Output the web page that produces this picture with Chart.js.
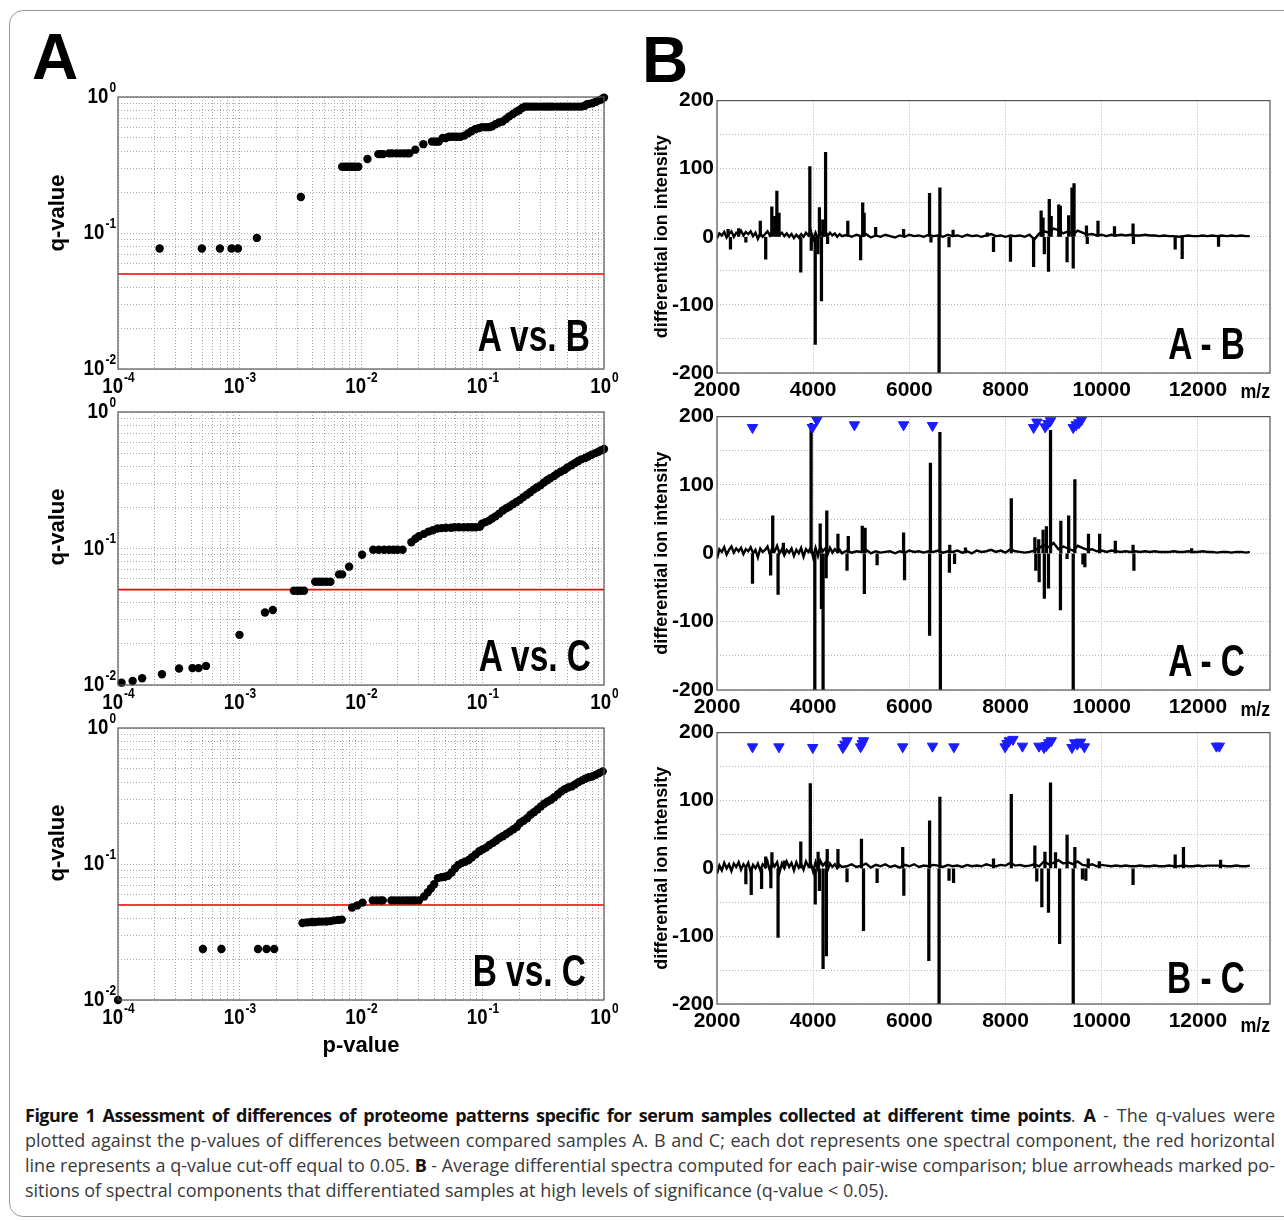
<!DOCTYPE html>
<html>
<head>
<meta charset="utf-8">
<script src="https://cdn.jsdelivr.net/npm/chart.js@4.4.1/dist/chart.umd.min.js"></script>
<style>
  body { margin: 0; background: #fff; width: 1284px; height: 1220px; position: relative; overflow: hidden; }
  #frame { position: absolute; left: 9px; top: 10px; width: 1300px; height: 1205px; border: 1px solid #9a9a9a; border-radius: 14px; }
  canvas { position: absolute; }
  .big { position: absolute; font: bold 64px/64px 'Liberation Sans', Arial, sans-serif; color: #000; }
  .ylab { position: absolute; width: 120px; height: 26px; font: bold 22px/26px 'Liberation Sans', Arial, sans-serif; text-align: center; transform: rotate(-90deg); color: #000; }
  .tag { position: absolute; width: 200px; text-align: right; font: bold 44px/44px 'Liberation Sans', Arial, sans-serif; color: #000; transform: scaleX(0.76); transform-origin: 100% 50%; }
  .mz { position: absolute; left: 1236px; width: 30px; text-align: right; font: bold 21px/22px 'Liberation Sans', Arial, sans-serif; color: #000; transform: scaleX(0.85); transform-origin: 100% 50%; }
  #caption { position: absolute; left: 25px; top: 1103px; width: 1250px; font: 18px/25px 'Open Sans', sans-serif; color: #3a3a3a; letter-spacing: 0; }
  #caption .ln { white-space: nowrap; text-align: justify; text-align-last: justify; }
  #caption .last { text-align-last: left; }
  #caption b { letter-spacing: -0.5px; color: #111; }
</style>
</head>
<body>
<div id="frame"></div>
<div class="big" style="left:32px;top:25px">A</div>
<div class="big" style="left:642px;top:28px">B</div>

<canvas id="qAB" width="600" height="317" style="left:20px;top:82px"></canvas>
<canvas id="qAC" width="600" height="318" style="left:20px;top:397px"></canvas>
<canvas id="qBC" width="600" height="352" style="left:20px;top:713px"></canvas>
<canvas id="sAB" width="650" height="320" style="left:630px;top:85px"></canvas>
<canvas id="sAC" width="650" height="321" style="left:630px;top:401px"></canvas>
<canvas id="sBC" width="650" height="319" style="left:630px;top:717px"></canvas>

<div class="ylab" style="left:-3px;top:200px">q-value</div>
<div class="ylab" style="left:-3px;top:514px">q-value</div>
<div class="ylab" style="left:-3px;top:830px">q-value</div>

<div class="tag" style="left:390px;top:314px">A vs. B</div>
<div class="tag" style="left:391px;top:634px">A vs. C</div>
<div class="tag" style="left:386px;top:949px">B vs. C</div>
<div class="tag" style="left:1045px;top:322px">A - B</div>
<div class="tag" style="left:1045px;top:639px">A - C</div>
<div class="tag" style="left:1045px;top:956px">B - C</div>
<div class="mz" style="top:380px">m/z</div>
<div class="mz" style="top:698px">m/z</div>
<div class="mz" style="top:1014px">m/z</div>

<div id="caption">
  <div class="ln"><b>Figure 1 Assessment of differences of proteome patterns specific for serum samples collected at different time points</b>. <b>A</b> - The q-values were</div>
  <div class="ln">plotted against the p-values of differences between compared samples A. B and C; each dot represents one spectral component, the red horizontal</div>
  <div class="ln">line represents a q-value cut-off equal to 0.05. <b>B</b> - Average differential spectra computed for each pair-wise comparison; blue arrowheads marked po-</div>
  <div class="ln last">sitions of spectral components that differentiated samples at high levels of significance (q-value &lt; 0.05).</div>
</div>

<script>
// ---- panel A: p-value / q-value pairs ----
const pDecades = [1e-4, 1e-3, 1e-2, 1e-1, 1];
const pExps = ['-4', '-3', '-2', '-1', '0'];
const qDecades = [1e-2, 1e-1, 1];
const qExps = ['-2', '-1', '0'];
const minorSteps = [1, 2, 3, 4, 5, 6, 7, 8, 9];
const qCutoff = 0.05;

const pAB = [2.2e-4, 4.9e-4, 6.9e-4, 8.6e-4, 9.7e-4,
  1.39e-3, 3.2e-3,
  7.0e-3, 7.4e-3, 7.8e-3, 8.2e-3, 8.6e-3, 9.0e-3, 9.5e-3,
  1.13e-2, 1.39e-2, 1.45e-2, 1.52e-2,
  1.7e-2, 1.8e-2, 1.95e-2, 2.1e-2, 2.25e-2, 2.4e-2, 2.5e-2,
  2.8e-2, 3.26e-2, 3.84e-2, 4.05e-2, 4.2e-2, 4.37e-2,
  4.7e-2, 5.0e-2, 5.3e-2, 5.6e-2, 5.9e-2, 6.2e-2, 6.6e-2, 7.1e-2,
  7.6e-2, 8.1e-2, 8.7e-2, 9.3e-2, 0.099, 0.106, 0.113, 0.12, 0.128, 0.137,
  0.146, 0.156, 0.166, 0.178, 0.19, 0.2, 0.212, 0.223,
  0.235, 0.25, 0.265, 0.28, 0.3, 0.32, 0.34, 0.36, 0.38, 0.41, 0.44, 0.47, 0.5, 0.53, 0.57, 0.61, 0.65,
  0.69, 0.72, 0.75, 0.8, 0.85, 0.9, 0.95, 1.0];
const qAB = [0.077, 0.077, 0.077, 0.077, 0.077,
  0.092, 0.184,
  0.307, 0.307, 0.307, 0.307, 0.307, 0.307, 0.307,
  0.35, 0.38, 0.38, 0.38,
  0.385, 0.385, 0.385, 0.385, 0.385, 0.385, 0.385,
  0.41, 0.45, 0.47, 0.47, 0.47, 0.47,
  0.5, 0.5, 0.51, 0.51, 0.51, 0.51, 0.51, 0.52,
  0.54, 0.56, 0.58, 0.59, 0.6, 0.6, 0.6, 0.61, 0.63, 0.65,
  0.66, 0.69, 0.72, 0.75, 0.78, 0.8, 0.83, 0.85,
  0.85, 0.85, 0.85, 0.85, 0.85, 0.85, 0.85, 0.85, 0.85, 0.85, 0.85, 0.85, 0.85, 0.85, 0.85, 0.85, 0.85,
  0.86, 0.88, 0.89, 0.9, 0.92, 0.94, 0.96, 0.99];

const pAC = [1.07e-4, 1.32e-4, 1.58e-4, 2.3e-4, 3.18e-4, 4.1e-4, 4.6e-4, 5.3e-4,
  1.0e-3, 1.62e-3, 1.88e-3,
  2.8e-3, 3.0e-3, 3.2e-3, 3.4e-3,
  4.2e-3, 4.5e-3, 4.8e-3, 5.2e-3, 5.6e-3,
  6.6e-3, 7.0e-3, 7.98e-3, 1.02e-2,
  1.26e-2, 1.4e-2, 1.55e-2, 1.7e-2, 1.85e-2, 2.0e-2, 2.2e-2,
  2.6e-2, 2.8e-2, 3.0e-2, 3.3e-2, 3.6e-2, 3.9e-2, 4.25e-2, 4.6e-2, 5.0e-2,
  5.5e-2, 5.9e-2, 6.4e-2, 7.0e-2, 7.6e-2, 8.2e-2, 8.8e-2, 9.5e-2,
  0.099, 0.106, 0.113, 0.12, 0.128, 0.137, 0.147, 0.157, 0.167, 0.178,
  0.19, 0.203, 0.217, 0.232, 0.247, 0.263, 0.28, 0.3, 0.32, 0.34,
  0.36, 0.389, 0.41, 0.44, 0.473, 0.5, 0.54, 0.575, 0.61, 0.65,
  0.7, 0.74, 0.79, 0.85, 0.9, 0.95, 1.0];
const qAC = [0.0104, 0.0107, 0.0112, 0.012, 0.0132, 0.0133, 0.0133, 0.0138,
  0.0233, 0.034, 0.0354,
  0.049, 0.049, 0.049, 0.049,
  0.057, 0.057, 0.057, 0.057, 0.057,
  0.0646, 0.0646, 0.0736, 0.09,
  0.098, 0.098, 0.098, 0.098, 0.098, 0.098, 0.098,
  0.111, 0.118, 0.123, 0.128, 0.133, 0.136, 0.14, 0.141, 0.142,
  0.142, 0.143, 0.143, 0.143, 0.143, 0.143, 0.143, 0.144,
  0.152, 0.156, 0.16, 0.166, 0.172, 0.18, 0.19, 0.197, 0.203, 0.211,
  0.219, 0.227, 0.238, 0.248, 0.258, 0.27, 0.28, 0.29, 0.304, 0.316,
  0.327, 0.34, 0.352, 0.365, 0.377, 0.392, 0.407, 0.422, 0.436, 0.45,
  0.46, 0.472, 0.486, 0.5, 0.512, 0.524, 0.536];

const pBC = [1.0e-4,
  5.0e-4, 7.1e-4, 1.42e-3, 1.67e-3, 1.93e-3,
  3.3e-3, 3.6e-3, 3.9e-3, 4.2e-3, 4.5e-3, 4.8e-3, 5.2e-3, 5.6e-3, 6.0e-3, 6.5e-3, 6.95e-3,
  8.45e-3, 9.3e-3, 1.03e-2,
  1.25e-2, 1.35e-2, 1.45e-2, 1.51e-2,
  1.78e-2, 1.9e-2, 2.05e-2, 2.2e-2, 2.35e-2, 2.5e-2, 2.65e-2, 2.8e-2, 3.0e-2,
  3.31e-2, 3.55e-2, 3.77e-2, 4.0e-2, 4.3e-2, 4.6e-2, 4.9e-2, 5.2e-2, 5.57e-2, 5.95e-2,
  6.34e-2, 6.8e-2, 7.2e-2, 7.7e-2, 8.2e-2, 8.8e-2, 9.4e-2, 0.1, 0.107, 0.114,
  0.122, 0.13, 0.138, 0.147, 0.157, 0.168, 0.18, 0.192, 0.204, 0.218,
  0.233, 0.248, 0.265, 0.283, 0.302, 0.322, 0.344, 0.367, 0.39, 0.418,
  0.446, 0.475, 0.507, 0.542, 0.578, 0.617, 0.659, 0.7, 0.75, 0.8,
  0.855, 0.91, 0.975];
const qBC = [0.01,
  0.0237, 0.0237, 0.0237, 0.0237, 0.0237,
  0.0368, 0.0372, 0.0375, 0.0375, 0.0377, 0.0377, 0.0378, 0.038, 0.0385, 0.0388, 0.039,
  0.0479, 0.0496, 0.052,
  0.054, 0.054, 0.054, 0.054,
  0.054, 0.054, 0.054, 0.054, 0.054, 0.054, 0.054, 0.054, 0.054,
  0.0577, 0.062, 0.0664, 0.071, 0.0787, 0.08, 0.0805, 0.082, 0.0865, 0.093,
  0.0986, 0.102, 0.104, 0.107, 0.112, 0.118, 0.124, 0.128, 0.132, 0.138,
  0.143, 0.149, 0.155, 0.16, 0.166, 0.173, 0.18, 0.188, 0.2, 0.208,
  0.217, 0.23, 0.24, 0.252, 0.265, 0.277, 0.288, 0.297, 0.31, 0.326,
  0.342, 0.355, 0.365, 0.372, 0.385, 0.4, 0.412, 0.424, 0.434, 0.44,
  0.452, 0.466, 0.48];

// ---- panel B: differential spectra ----
const mzTicks = [2000, 4000, 6000, 8000, 10000, 12000];
const intTicks = [-200, -150, -100, -50, 0, 50, 100, 150, 200];

// m/z positions of the baseline trace
const mzGrid = [2000, 2050, 2100, 2150, 2200, 2250, 2300, 2350, 2400, 2450,
  2500, 2550, 2600, 2650, 2700, 2750, 2800, 2850, 2900, 2950,
  3000, 3050, 3100, 3150, 3200, 3250, 3300, 3350, 3400, 3450,
  3500, 3550, 3600, 3650, 3700, 3750, 3800, 3850, 3900, 3950,
  4000, 4050, 4100, 4150, 4200, 4250, 4300, 4350, 4400, 4450,
  4500, 4550, 4600,
  4700, 4800, 4900, 5000, 5100, 5200, 5300, 5400, 5500, 5600,
  5700, 5800, 5900, 6000, 6100, 6200, 6300, 6400, 6500, 6600,
  6700, 6800, 6900, 7000, 7100, 7200, 7300, 7400, 7500, 7600,
  7700, 7800, 7900, 8000, 8100, 8200, 8300, 8400, 8500, 8600,
  8700, 8800, 8900, 9000, 9100, 9200, 9300, 9400, 9500, 9600,
  9700, 9800, 9900, 10000, 10100, 10200, 10300, 10400, 10500, 10600,
  10700, 10800, 10900, 11000, 11100, 11200, 11300, 11400, 11500, 11600,
  11700, 11800, 11900, 12000, 12100, 12200, 12300, 12400, 12500, 12600,
  12700, 12800, 12900, 13000, 13080];

const baseAB = [-2, 5, 2, 7, -1, 4, 8, 0, 6, 3,
  9, 2, 7, 4, 8, 1, 6, -3, 5, 0,
  4, 8, 2, 9, 5, 10, 3, 6, 1, 5,
  0, 4, -2, 3, -1, 4, 0, 6, 2, 9,
  -4, 6, -3, 8, 2, 9, 1, 6, 2, 5,
  0, 4, 1,
  3, 0, 3, 1, 4, -1, 2, 0, 3, 1,
  -1, 2, 0, 3, 1, 2, 0, 3, 1, 2,
  0, 3, 1, 2, 0, 3, 1, 2, 0, 2,
  4, 1, 2, 0, 2, 1, 2, 0, 3, -4,
  5, 8, 6, 12, 10, 5, 8, 3, 9, 6,
  3, 4, 2, 3, 1, 3, 2, 3, 2, 3,
  2, 2, 3, 2, 2, 1, 2, 1, 1, 0,
  1, 2, 1, 1, 2, 1, 2, 1, 2, 1,
  2, 1, 2, 1, 1];
const baseAC = [-8, 6, 2, 9, -2, 5, 10, 1, 7, 3,
  8, -1, 6, 3, 9, 0, 5, -6, 7, 2,
  5, 10, -2, 8, 3, 11, 0, 6, -3, 5,
  1, 7, -4, 5, 0, 8, -5, 6, 2, 9,
  -6, 8, -4, 10, 3, 7, -2, 8, 1, 6,
  2, 5, 0,
  4, 1, 3, 2, 5, 0, 3, 1, 2, 3,
  0, 3, 1, 4, 2, 3, 1, 3, 2, 4,
  1, 3, 2, 4, 1, 3, 0, 4, 2, 3,
  5, 2, 4, 1, 6, 3, 2, 1, 2, 4,
  8, 12, 9, 15, 6, 10, 7, 4, 11, 8,
  5, 6, 3, 4, 2, 4, 3, 2, 3, 2,
  3, 2, 3, 2, 3, 2, 2, 2, 3, 2,
  2, 3, 2, 2, 3, 2, 2, 1, 2, 2,
  1, 2, 2, 1, 2];
const baseBC = [-8, 4, -3, 8, 0, 6, -4, 7, 2, 9,
  -2, 6, 1, 8, -5, 5, 0, 7, -3, 6,
  2, 10, -4, 8, 3, 9, -6, 7, 0, 10,
  2, 8, -3, 9, 1, 7, -2, 10, 3, 8,
  -5, 9, -2, 11, 4, 8, -3, 7, 2, 6,
  0, 5, 2,
  3, 6, 2, 4, 7, 1, 5, 3, 6, 2,
  4, 1, 5, 3, 6, 2, 4, 3, 5, 4,
  2, 5, 3, 4, 2, 5, 3, 4, 3, 6,
  4, 3, 5, 4, 8, 4, 5, 3, 4, 6,
  3, 10, 6, 8, 12, 7, 9, 6, 10, 5,
  4, 6, 3, 5, 4, 3, 4, 3, 4, 3,
  3, 4, 3, 3, 4, 3, 3, 4, 3, 3,
  4, 3, 3, 4, 3, 4, 4, 4, 4, 3,
  3, 4, 3, 3, 4];

// sharp peaks: [m/z, intensity]
const spikesAB = [[2230, 11], [2280, -18], [2450, 12], [2600, -8], [2900, 23], [3013, -33], [3140, 44], [3200, 30],
  [3245, 67], [3290, 35], [3742, -52], [3931, 103], [3960, -20], [4043, -158], [4100, -25], [4130, 43], [4172, -94],
  [4200, 25], [4258, 124], [4300, -10], [4720, 23], [4987, -34], [5030, 50], [5060, 35], [5300, 14], [5880, 11],
  [6420, 64], [6450, -8], [6618, -230], [6635, 72], [6825, -15], [6910, 10], [7620, 6], [7750, -22], [8103, -36],
  [8584, -44], [8740, 38], [8780, 28], [8807, -25], [8893, -51], [8910, 55], [8950, 30], [9107, 47], [9140, 45],
  [9280, -37], [9313, 31], [9382, 72], [9408, -46], [9425, 78], [9683, 16], [9700, -10], [9923, 23], [10266, 15],
  [10652, 19], [10660, -10], [11528, -18], [11674, -32], [12430, -14]];
const spikesAC = [[2738, -44], [3116, -32], [3159, 55], [3270, -60], [3380, 15], [3957, 190], [4034, -230], [4146, 43],
  [4172, -81], [4206, -230], [4270, -36], [4283, 62], [4515, 28], [4704, -25], [4730, 25], [5021, 40], [5064, -59],
  [5080, 37], [5330, -17], [5880, 30], [5900, -39], [6421, -120], [6438, 132], [6635, 177], [6645, -230], [6833, -28],
  [6840, 12], [6940, -15], [7167, 8], [8120, 80], [8610, 23], [8630, -25], [8690, 20], [8700, -42], [8781, 34],
  [8807, -66], [8850, 39], [8893, -51], [8936, 180], [9142, -83], [9150, 47], [9280, -8], [9313, 55], [9408, -230],
  [9442, 108], [9610, -16], [9650, -20], [9725, 28], [9957, 28], [10283, 18], [10652, 12], [10670, -25], [11870, 7]];
const spikesBC = [[2600, -23], [2712, -39], [2927, -30], [3013, 17], [3120, -29], [3142, 23], [3270, -102], [3400, 11],
  [3742, 39], [3940, 125], [4043, -53], [4103, 24], [4130, -33], [4206, -148], [4275, -129], [4292, 28], [4515, 28],
  [4704, -20], [5004, 43], [5047, -92], [5330, -21], [5862, 31], [5885, -40], [6405, -136], [6421, 70], [6618, -230],
  [6635, 105], [6825, -18], [6919, -21], [7750, 14], [8120, 109], [8610, 33], [8650, -19], [8755, -57], [8820, 24],
  [8893, -65], [8936, 126], [9040, 23], [9125, -111], [9280, 49], [9408, -230], [9442, 31], [9600, -16], [9670, -18],
  [9720, 14], [9950, 10], [10652, -24], [11528, 20], [11700, 31], [12472, 12]];

// blue arrowheads (significant components)
const trisAC = [[2738, 184], [3983, 184], [4077, 195], [4858, 188], [5880, 188], [6481, 187], [8584, 184], [8652, 192],
  [8824, 185], [8880, 190], [8936, 194], [9408, 184], [9468, 188], [9528, 191], [9579, 195]];
const trisBC = [[2738, 179], [3288, 179], [3991, 178], [4618, 178], [4660, 183], [4704, 188], [4987, 179], [5020, 184],
  [5047, 188], [5862, 179], [6481, 180], [6927, 179], [7991, 179], [8030, 184], [8077, 188], [8155, 190], [8352, 180],
  [8695, 180], [8800, 178], [8850, 181], [8900, 185], [8953, 188], [9382, 178], [9440, 185], [9493, 183], [9560, 186],
  [9639, 179], [12386, 180], [12446, 180]];

const SANS = "'Liberation Sans', Arial, sans-serif";

// grid ticks for the log axes: every 1..9 x decade
function logGrid(decades) {
  const out = [];
  decades.forEach((d, i) => {
    if (i === decades.length - 1) { out.push(d); return; }
    minorSteps.forEach(s => out.push(d * s));
  });
  return out;
}

// Box round the plot area
const framePlugin = {
  id: 'frame',
  afterDraw(chart) {
    const a = chart.chartArea, ctx = chart.ctx;
    ctx.save();
    ctx.strokeStyle = '#555';
    ctx.lineWidth = 1.2;
    ctx.strokeRect(a.left, a.top, a.right - a.left, a.bottom - a.top);
    ctx.restore();
  }
};

// 10^n labels with real superscripts, slightly condensed like the original
const SQ = 0.85;
const logLabels = {
  id: 'logLabels',
  afterDraw(chart) {
    const {ctx, chartArea: a, scales: {x, y}} = chart;
    const draw = (exp, cx, cy, align) => {
      ctx.font = 'bold 22px ' + SANS;
      const w1 = ctx.measureText('10').width * SQ;
      ctx.font = 'bold 14px ' + SANS;
      const w2 = ctx.measureText(exp).width * SQ;
      const x0 = align === 'center' ? cx - (w1 + w2) / 2 : cx - (w1 + w2 + 2);
      ctx.save();
      ctx.translate(x0, cy);
      ctx.scale(SQ, 1);
      ctx.textBaseline = 'middle';
      ctx.textAlign = 'left';
      ctx.font = 'bold 22px ' + SANS;
      ctx.fillText('10', 0, 0);
      ctx.font = 'bold 14px ' + SANS;
      ctx.fillText(exp, (w1 + 1) / SQ, -9);
      ctx.restore();
    };
    ctx.save();
    ctx.fillStyle = '#000';
    pDecades.forEach((v, i) => draw(pExps[i], x.getPixelForValue(v), a.bottom + 18, 'center'));
    qDecades.forEach((v, i) => draw(qExps[i], a.left - 1, y.getPixelForValue(v), 'right'));
    ctx.restore();
  }
};

function qChart(id, pv, qv, xHeight, showXTitle) {
  const pGrid = logGrid(pDecades);
  const qGrid = logGrid(qDecades);
  new Chart(document.getElementById(id), {
    type: 'scatter',
    data: {
      datasets: [
        {
          type: 'line',
          data: [pDecades[0], pDecades[pDecades.length - 1]].map(p => ({x: p, y: qCutoff})),
          borderColor: '#ff0000', borderWidth: 1.6, pointRadius: 0, order: 2
        },
        {
          data: pv.map((p, i) => ({x: p, y: qv[i]})),
          pointRadius: 4.2, backgroundColor: '#000', borderColor: '#000', pointBorderWidth: 0,
          clip: false, order: 1
        }
      ]
    },
    options: {
      animation: false,
      responsive: false,
      layout: {padding: {top: 15, right: 16, left: 0, bottom: 0}},
      plugins: {legend: {display: false}, tooltip: {enabled: false}},
      scales: {
        x: {
          type: 'logarithmic', min: 1e-4, max: 1,
          afterBuildTicks: s => { s.ticks = pGrid.map(v => ({value: v})); },
          afterFit: s => { s.height = xHeight; },
          ticks: {display: false},
          grid: {color: '#a9a9a9', drawTicks: false},
          border: {display: false, dash: [1, 2]},
          title: {
            display: showXTitle, text: 'p-value', color: '#000',
            font: {family: SANS, size: 22, weight: 'bold'}, padding: {top: 0, bottom: 6}
          }
        },
        y: {
          type: 'logarithmic', min: 0.01, max: 1,
          afterBuildTicks: s => { s.ticks = qGrid.map(v => ({value: v})); },
          afterFit: s => { s.width = 98; },
          ticks: {display: false},
          grid: {color: '#a9a9a9', drawTicks: false},
          border: {display: false, dash: [1, 2]}
        }
      }
    },
    plugins: [framePlugin, logLabels]
  });
}

function spectrumChart(id, base, spikes, tris) {
  const datasets = [
    {
      type: 'line',
      data: mzGrid.map((m, i) => ({x: m, y: base[i]})),
      borderColor: '#000', borderWidth: 2.4, pointRadius: 0, tension: 0, order: 3
    },
    {
      type: 'bar',
      data: spikes.map(s => ({x: s[0], y: s[1]})),
      backgroundColor: '#000', barThickness: 2.6, order: 2
    }
  ];
  if (tris) {
    datasets.push({
      type: 'line',
      data: tris.map(t => ({x: t[0], y: t[1]})),
      showLine: false, pointStyle: 'triangle', rotation: 180, pointRadius: 6,
      pointBackgroundColor: '#1c1cff', pointBorderColor: '#1c1cff', pointBorderWidth: 1,
      clip: false, order: 1
    });
  }
  const tickFont = {family: SANS, size: 21, weight: 'bold'};
  new Chart(document.getElementById(id), {
    type: 'line',
    data: {datasets},
    options: {
      animation: false,
      responsive: false,
      layout: {padding: {top: 13, right: 10, left: 0, bottom: 0}},
      plugins: {legend: {display: false}, tooltip: {enabled: false}},
      scales: {
        x: {
          type: 'linear', min: 2000, max: 13500, offset: false,
          afterBuildTicks: s => { s.ticks = mzTicks.map(v => ({value: v})); },
          afterFit: s => { s.height = 32; },
          ticks: {autoSkip: false, maxRotation: 0, padding: 5, color: '#000', font: tickFont, callback: v => String(v)},
          grid: {color: '#b4b4b4', drawTicks: false, offset: false},
          border: {display: false, dash: [1, 2]}
        },
        y: {
          type: 'linear', min: -200, max: 200,
          afterBuildTicks: s => { s.ticks = intTicks.map(v => ({value: v})); },
          afterFit: s => { s.width = 87; },
          ticks: {
            autoSkip: false, padding: 3, color: '#000', font: tickFont,
            callback: v => (v % 100 === 0 ? String(v) : '')
          },
          grid: {color: '#b4b4b4', drawTicks: false},
          border: {display: false, dash: [1, 2]},
          title: {
            display: true, text: 'differential ion intensity', color: '#000',
            font: {family: SANS, size: 18, weight: 'bold'}, padding: {top: 21, bottom: 0}
          }
        }
      }
    },
    plugins: [framePlugin]
  });
}

qChart('qAB', pAB, qAB, 30, false);
qChart('qAC', pAC, qAC, 30, false);
qChart('qBC', pBC, qBC, 65, true);
spectrumChart('sAB', baseAB, spikesAB, null);
spectrumChart('sAC', baseAC, spikesAC, trisAC);
spectrumChart('sBC', baseBC, spikesBC, trisBC);
</script>
</body>
</html>
